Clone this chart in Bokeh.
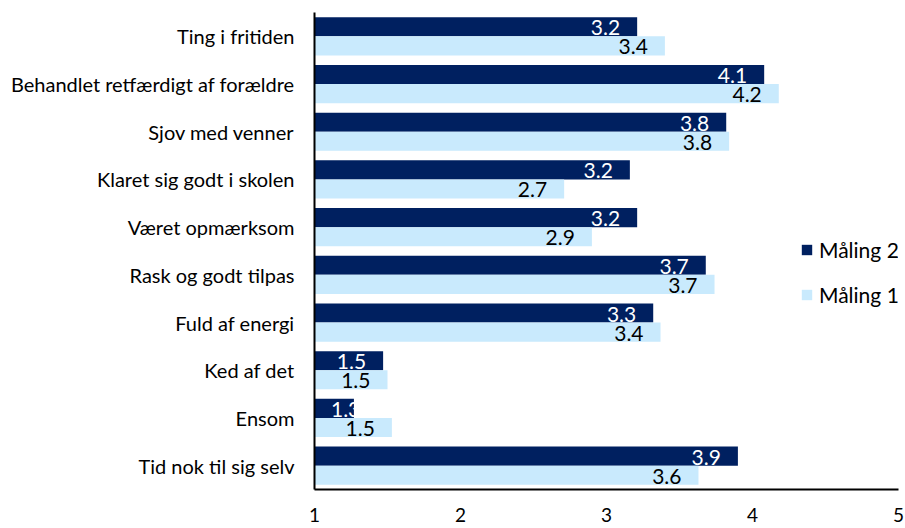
from bokeh.plotting import figure
from bokeh.models import Range1d, FactorRange, Legend, LegendItem, ColumnDataSource
from bokeh.transform import dodge
from bokeh.core.properties import value
from bokeh.embed import file_html
from bokeh.resources import INLINE

categories = [
    "Ting i fritiden",
    "Behandlet retfærdigt af forældre",
    "Sjov med venner",
    "Klaret sig godt i skolen",
    "Været opmærksom",
    "Rask og godt tilpas",
    "Fuld af energi",
    "Ked af det",
    "Ensom",
    "Tid nok til sig selv",
]
maaling2 = [3.21, 4.08, 3.82, 3.16, 3.21, 3.68, 3.32, 1.47, 1.27, 3.90]
maaling1 = [3.40, 4.18, 3.84, 2.71, 2.90, 3.74, 3.37, 1.50, 1.53, 3.63]
x_ticks = [1, 2, 3, 4, 5]

FONT = "Lato"
DARK = "#002060"
LIGHT = "#C9EAFD"
LABEL_MIN = 1.43  # minimum anchor for inside-end labels

src = ColumnDataSource(dict(
    cat=categories,
    m2=maaling2,
    m1=maaling1,
    m2_lab=[f"{v:.1f}" for v in maaling2],
    m1_lab=[f"{v:.1f}" for v in maaling1],
    m2_pos=[max(v, LABEL_MIN) for v in maaling2],
    m1_pos=[max(v, LABEL_MIN) for v in maaling1],
))

p = figure(
    width=905, height=524,
    y_range=FactorRange(*reversed(categories), range_padding=0),
    x_range=Range1d(1, 5),
    output_backend="svg", toolbar_location=None,
    min_border_left=314, min_border_right=7, min_border_top=12, min_border_bottom=32,
)
p.outline_line_color = None
p.xgrid.visible = False
p.ygrid.visible = False

r2 = p.hbar(y=dodge("cat", 0.2, range=p.y_range), left=1, right="m2", height=0.4,
            fill_color=DARK, line_color=None, source=src)
r1 = p.hbar(y=dodge("cat", -0.2, range=p.y_range), left=1, right="m1", height=0.4,
            fill_color=LIGHT, line_color=None, source=src)

p.text(x="m2_pos", y=dodge("cat", 0.2, range=p.y_range), text="m2_lab", source=src,
       text_align="right", text_baseline="middle", x_offset=-17, y_offset=1,
       text_color="white", text_font=value(FONT), text_font_size="21px")
p.text(x="m1_pos", y=dodge("cat", -0.2, range=p.y_range), text="m1_lab", source=src,
       text_align="right", text_baseline="middle", x_offset=-17, y_offset=1,
       text_color="black", text_font=value(FONT), text_font_size="21px")

for ax in (p.xaxis, p.yaxis):
    ax.axis_line_color = "black"
    ax.axis_line_width = 2
    ax.major_tick_line_color = None
    ax.minor_tick_line_color = None
    ax.major_tick_out = 0
    ax.major_tick_in = 0
    ax.major_label_text_font = FONT
    ax.major_label_text_color = "black"

p.xaxis.ticker = x_ticks
p.xaxis.major_label_text_font_size = "19px"
p.xaxis.major_label_standoff = 18
p.yaxis.major_label_text_font_size = "20px"
p.yaxis.major_label_standoff = 20

legend = Legend(
    items=[LegendItem(label="Måling 2", renderers=[r2]),
           LegendItem(label="Måling 1", renderers=[r1])],
    location=(486, 182),
    orientation="vertical",
    glyph_width=13, glyph_height=13, label_height=20,
    spacing=20, padding=0, margin=0, label_standoff=6,
    label_text_font=FONT, label_text_font_size="21px", label_text_color="black",
    border_line_color=None, background_fill_alpha=0,
)
p.add_layout(legend)

open("out.html", "w").write(file_html(p, INLINE))
